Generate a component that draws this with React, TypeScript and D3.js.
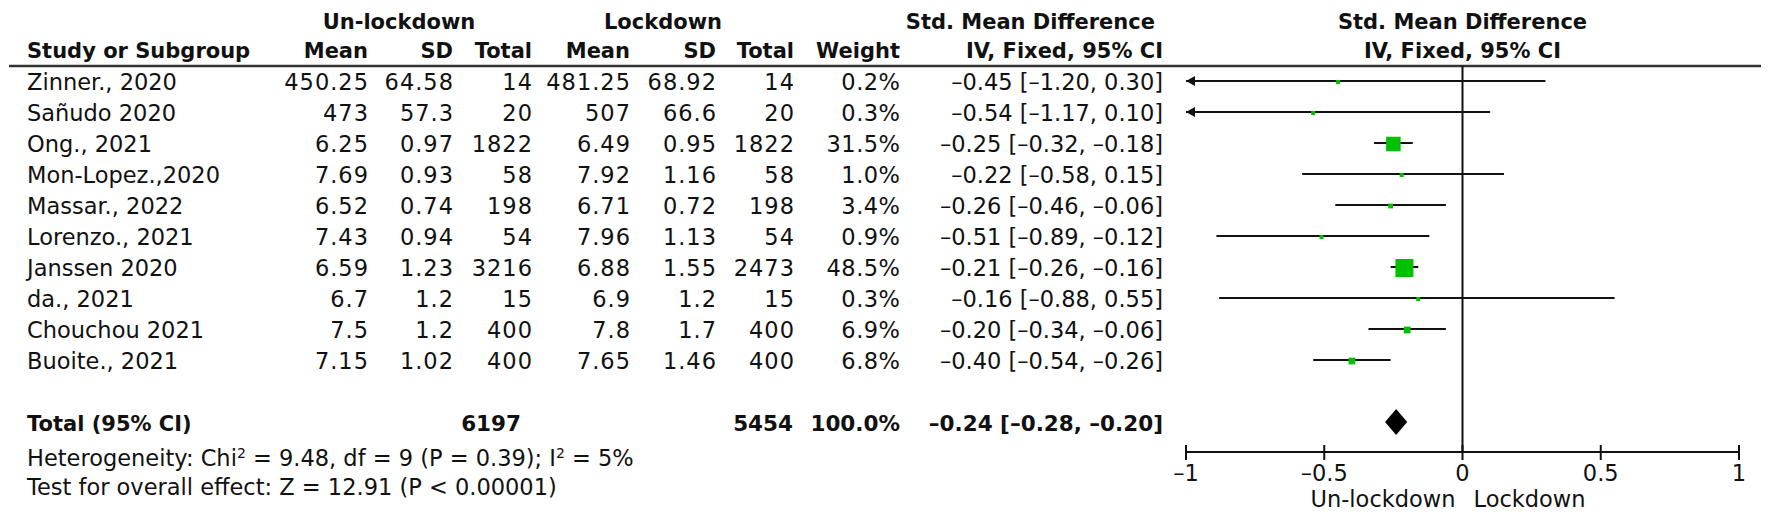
import React from "react";
import * as d3 from "d3";

const studies = [
  "Zinner., 2020",
  "Sañudo 2020",
  "Ong., 2021",
  "Mon-Lopez.,2020",
  "Massar., 2022",
  "Lorenzo., 2021",
  "Janssen 2020",
  "da., 2021",
  "Chouchou 2021",
  "Buoite., 2021",
];
const unMean = [450.25, 473, 6.25, 7.69, 6.52, 7.43, 6.59, 6.7, 7.5, 7.15];
const unSD = [64.58, 57.3, 0.97, 0.93, 0.74, 0.94, 1.23, 1.2, 1.2, 1.02];
const unTotal = [14, 20, 1822, 58, 198, 54, 3216, 15, 400, 400];
const lkMean = [481.25, 507, 6.49, 7.92, 6.71, 7.96, 6.88, 6.9, 7.8, 7.65];
const lkSD = [68.92, 66.6, 0.95, 1.16, 0.72, 1.13, 1.55, 1.2, 1.7, 1.46];
const lkTotal = [14, 20, 1822, 58, 198, 54, 2473, 15, 400, 400];
const weights = [0.2, 0.3, 31.5, 1.0, 3.4, 0.9, 48.5, 0.3, 6.9, 6.8];
const smd = [-0.45, -0.54, -0.25, -0.22, -0.26, -0.51, -0.21, -0.16, -0.2, -0.4];
const ciLow = [-1.2, -1.17, -0.32, -0.58, -0.46, -0.89, -0.26, -0.88, -0.34, -0.54];
const ciHigh = [0.3, 0.1, -0.18, 0.15, -0.06, -0.12, -0.16, 0.55, -0.06, -0.26];

const totalUn = 6197;
const totalLk = 5454;
const totalWeight = 100.0;
const totalEst = [-0.24, -0.28, -0.2];

const axisTicks = [-1, -0.5, 0, 0.5, 1];
const tickLabels = ["–1", "–0.5", "0", "0.5", "1"];

const FONT = "'DejaVu Sans', sans-serif";
const GREEN = "#00c000";
const INK = "#111";

const f2 = (v: number) => (v < 0 ? "–" : "") + Math.abs(v).toFixed(2);
const ciText = (e: number, l: number, h: number) => `${f2(e)} [${f2(l)}, ${f2(h)}]`;

export default function App() {
  const W = 1772;
  const H = 518;
  const x = d3.scaleLinear().domain([-1, 1]).range([1186, 1739]);
  const rowY = d3.scaleLinear().domain([0, studies.length - 1]).range([81, 360]);
  const sq = d3.scaleSqrt().domain([0, 48.5]).range([0, 18]);
  const totalY = 422;
  const axisY = 452;
  const headerLineY = 66;
  const textOff = 8.5;
  const fs = 22.5;
  const fsb = 21;
  const fst = 21.5;
  const numLS = 1.0;

  const cols = [
    { x: 368, ls: numLS, vals: unMean.map(String) },
    { x: 453, ls: numLS, vals: unSD.map(String) },
    { x: 532, ls: numLS, vals: unTotal.map(String) },
    { x: 630, ls: numLS, vals: lkMean.map(String) },
    { x: 716, ls: numLS, vals: lkSD.map(String) },
    { x: 794, ls: numLS, vals: lkTotal.map(String) },
    { x: 900, ls: 0.5, vals: weights.map((w) => w.toFixed(1) + "%") },
    { x: 1163, ls: 0, vals: smd.map((e, i) => ciText(e, ciLow[i], ciHigh[i])) },
  ];
  const headers = ["Mean", "SD", "Total", "Mean", "SD", "Total", "Weight", "IV, Fixed, 95% CI"];

  return (
    <svg
      width={W}
      height={H}
      style={{ position: "absolute", left: 0, top: 0, background: "#fff" }}
      fontFamily={FONT}
    >
      <rect x={0} y={0} width={W} height={H} fill="#fff" />
      {/* headers */}
      <g fontWeight="bold" fontSize={fsb} fill={INK}>
        <text x={399} y={29} textAnchor="middle">Un-lockdown</text>
        <text x={663} y={29} textAnchor="middle">Lockdown</text>
        <text x={1155} y={29} textAnchor="end">Std. Mean Difference</text>
        <text x={x(0)} y={29} textAnchor="middle">Std. Mean Difference</text>
        <text x={x(0)} y={58} textAnchor="middle">IV, Fixed, 95% CI</text>
        <text x={27} y={58}>Study or Subgroup</text>
        {headers.map((h, i) => (
          <text key={i} x={cols[i].x} y={58} textAnchor="end">{h}</text>
        ))}
      </g>
      <line x1={9} x2={1761} y1={headerLineY} y2={headerLineY} stroke="#333" strokeWidth={2.5} />

      {/* study rows */}
      <g fontSize={fs} fill={INK}>
        {studies.map((s, i) => (
          <g key={s}>
            <text x={27} y={rowY(i) + textOff}>{s}</text>
            {cols.map((c, j) => (
              <text
                key={j}
                x={c.x + c.ls}
                y={rowY(i) + textOff}
                textAnchor="end"
                letterSpacing={c.ls}
              >
                {c.vals[i]}
              </text>
            ))}
          </g>
        ))}
      </g>

      {/* total row */}
      <g fontWeight="bold" fill={INK}>
        <text x={27} y={totalY + textOff} fontSize={fsb}>Total (95% CI)</text>
        <g fontSize={fst}>
          <text x={521} y={totalY + textOff} textAnchor="end">{String(totalUn)}</text>
          <text x={793} y={totalY + textOff} textAnchor="end">{String(totalLk)}</text>
          <text x={900} y={totalY + textOff} textAnchor="end">{totalWeight.toFixed(1) + "%"}</text>
          <text x={1163} y={totalY + textOff} textAnchor="end">
            {ciText(totalEst[0], totalEst[1], totalEst[2])}
          </text>
        </g>
      </g>
      <g fontSize={fs} fill={INK}>
        <text x={27} y={466}>
          Heterogeneity: Chi<tspan dy={-8} fontSize={14}>2</tspan>
          <tspan dy={8}> = 9.48, df = 9 (P = 0.39); I</tspan>
          <tspan dy={-8} fontSize={14}>2</tspan>
          <tspan dy={8}> = 5%</tspan>
        </text>
        <text x={27} y={495}>Test for overall effect: Z = 12.91 (P &lt; 0.00001)</text>
      </g>

      {/* zero line */}
      <line x1={x(0)} x2={x(0)} y1={headerLineY} y2={axisY} stroke={INK} strokeWidth={2} />

      {/* CI lines and squares */}
      {studies.map((s, i) => {
        const y = rowY(i);
        const lo = Math.max(ciLow[i], -1);
        const hi = Math.min(ciHigh[i], 1);
        const sz = Math.max(4, sq(weights[i]));
        return (
          <g key={s}>
            <line x1={x(lo)} x2={x(hi)} y1={y} y2={y} stroke={INK} strokeWidth={2} />
            {ciLow[i] < -1 && (
              <path
                d={`M${x(-1)},${y} L${x(-1) + 9},${y - 5} L${x(-1) + 9},${y + 5} Z`}
                fill={INK}
              />
            )}
            {ciHigh[i] > 1 && (
              <path
                d={`M${x(1)},${y} L${x(1) - 9},${y - 5} L${x(1) - 9},${y + 5} Z`}
                fill={INK}
              />
            )}
            <rect
              x={x(smd[i]) - sz / 2}
              y={y - sz / 2 + 1}
              width={sz}
              height={sz}
              fill={GREEN}
            />
          </g>
        );
      })}

      {/* overall diamond */}
      <path
        d={`M${x(totalEst[1])},${totalY} L${x(totalEst[0])},${totalY - 13} L${x(totalEst[2])},${totalY} L${x(totalEst[0])},${totalY + 13} Z`}
        fill="#000"
      />

      {/* axis */}
      <line x1={x(-1)} x2={x(1)} y1={axisY} y2={axisY} stroke={INK} strokeWidth={2} />
      {axisTicks.map((t, i) => (
        <g key={t}>
          <line x1={x(t)} x2={x(t)} y1={axisY - 7} y2={axisY + 8} stroke={INK} strokeWidth={2} />
          <text x={x(t)} y={481} textAnchor="middle" fontSize={fs} fill={INK}>{tickLabels[i]}</text>
        </g>
      ))}
      <text x={x(0) - 7} y={507} textAnchor="end" fontSize={fs} fill={INK}>Un-lockdown</text>
      <text x={x(0) + 11} y={507} fontSize={fs} fill={INK}>Lockdown</text>
    </svg>
  );
}
